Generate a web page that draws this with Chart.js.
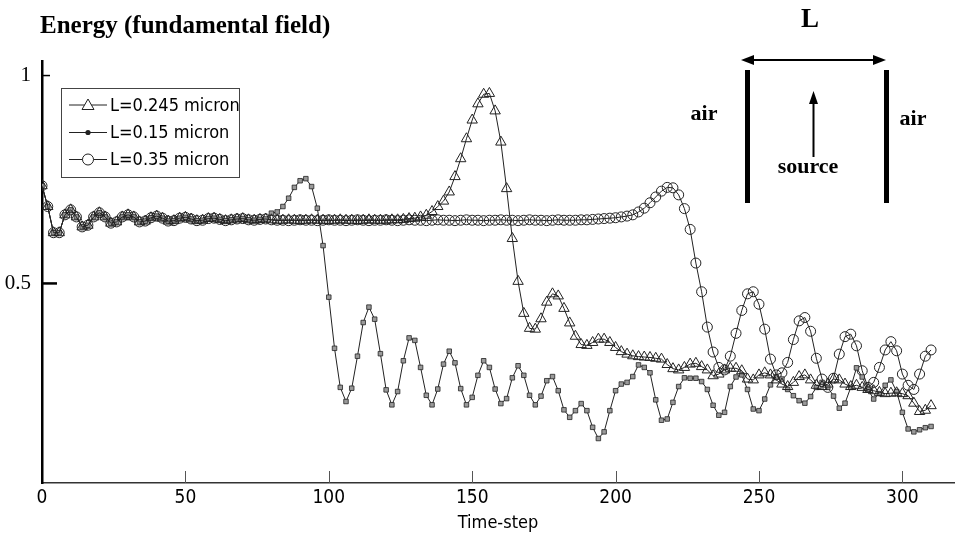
<!DOCTYPE html>
<html>
<head>
<meta charset="utf-8">
<script src="https://cdn.jsdelivr.net/npm/chart.js@4/dist/chart.umd.min.js"></script>
<style>
  body { margin: 0; background: #fff; }
  #energy-plot { display: block; }
</style>
</head>
<body>
<canvas id="energy-plot" width="961" height="539"></canvas>
<script>
// time-steps (every 2nd step was sampled)
const steps = [0,2,4,6,8,10,12,14,16,18,20,22,24,26,28,30,32,34,36,38,40,42,44,46,48,50,52,54,56,58,60,62,64,66,68,70,72,74,76,78,
    80,82,84,86,88,90,92,94,96,98,100,102,104,106,108,110,112,114,116,118,120,122,124,126,128,130,132,134,136,138,140,142,144,146,148,150,
    152,154,156,158,160,162,164,166,168,170,172,174,176,178,180,182,184,186,188,190,192,194,196,198,200,202,204,206,208,210,212,214,216,218,220,
    222,224,226,228,230,232,234,236,238,240,242,244,246,248,250,252,254,256,258,260,262,264,266,268,270,272,274,276,278,280,282,284,286,288,290,
    292,294,296,298,300,302,304,306,308,310];

// all three runs coincide for t = 0..78
const commonStart = [0.735,0.685,0.622,0.622,0.665,0.677,0.660,0.636,0.640,0.660,
    0.670,0.660,0.645,0.648,0.660,0.665,0.660,0.648,0.650,0.658,
    0.662,0.657,0.650,0.651,0.657,0.659,0.655,0.651,0.652,0.656,
    0.657,0.654,0.651,0.653,0.655,0.656,0.653,0.652,0.654,0.655];

// t = 80..310
const tail245 = [0.653,0.652,0.652,0.653,0.652,0.651,0.652,0.653,0.652,0.652,0.651,0.652,0.653,0.652,0.652,0.651,0.652,0.653,0.652,0.652,
    0.652,0.653,0.653,0.654,0.656,
    0.657,0.660,0.664,0.673,0.685,0.698,0.720,0.757,0.800,0.848,0.893,0.932,0.955,0.957,0.915,0.840,0.728,0.608,0.505,0.428,
    0.392,0.390,0.415,0.455,0.475,0.470,0.440,0.405,0.373,0.353,0.351,0.358,0.366,0.366,0.358,0.346,0.336,0.330,0.326,0.324,
    0.323,0.322,0.320,0.318,0.305,0.295,0.292,0.298,0.306,0.308,0.300,0.292,0.278,0.282,0.292,0.296,0.296,0.290,0.270,0.268,
    0.280,0.285,0.280,0.268,0.258,0.252,0.262,0.276,0.280,0.268,0.255,0.252,0.258,0.270,0.268,0.258,0.252,0.255,0.250,0.245,
    0.242,0.238,0.235,0.236,0.237,0.235,0.230,0.212,0.192,0.195,0.206];

const tail15 = [0.669,0.672,0.685,0.705,0.731,0.747,0.752,0.733,0.681,0.591,0.467,0.344,0.250,0.216,0.248,0.325,0.406,0.443,0.414,0.331,
    0.244,0.208,0.240,0.314,0.369,0.363,0.298,0.231,0.208,0.246,0.306,0.337,0.309,0.247,0.208,0.226,0.279,0.314,0.298,0.246,
    0.211,0.223,0.273,0.302,0.279,0.231,0.208,0.229,0.266,0.276,0.242,0.196,0.178,0.194,0.211,0.194,0.154,0.127,0.143,0.194,
    0.242,0.258,0.262,0.276,0.304,0.298,0.285,0.220,0.171,0.174,0.214,0.252,0.273,0.272,0.272,0.264,0.245,0.207,0.183,0.190,
    0.252,0.275,0.280,0.245,0.198,0.194,0.222,0.256,0.275,0.270,0.245,0.230,0.218,0.212,0.228,0.250,0.262,0.250,0.229,0.200,
    0.212,0.250,0.297,0.275,0.245,0.222,0.235,0.255,0.268,0.240,0.190,0.150,0.143,0.148,0.153,0.156];

const tail35 = [0.653,0.652,0.652,0.651,0.652,0.653,0.652,0.652,0.651,0.652,0.653,0.652,0.652,0.651,0.652,0.653,0.652,0.651,0.652,0.652,
    0.653,0.652,0.651,0.652,0.653,0.652,0.652,0.651,0.652,0.653,0.652,0.652,0.651,0.652,0.653,0.652,0.652,0.651,0.652,0.652,
    0.653,0.652,0.652,0.651,0.652,0.653,0.652,0.652,0.651,0.652,0.653,0.652,0.652,0.652,0.653,
    0.653,0.654,0.655,0.656,0.657,0.658,0.660,0.662,0.665,0.672,0.681,0.694,0.708,0.722,0.731,0.730,0.713,0.680,0.630,0.549,
    0.480,0.395,0.335,0.298,0.292,0.325,0.380,0.435,0.475,0.480,0.450,0.390,0.318,0.280,0.285,0.310,0.365,0.410,0.418,0.385,
    0.320,0.270,0.250,0.272,0.330,0.372,0.378,0.350,0.290,0.250,0.262,0.298,0.340,0.360,0.338,0.282,0.255,0.245,0.282,0.325,0.340];

const seriesLabels = ['L=0.245 micron', 'L=0.15 micron', 'L=0.35 micron'];
const xTicks = [0, 50, 100, 150, 200, 250, 300];
const yTicks = [0.5, 1];

const NARROW = '"DejaVu Sans Condensed", "Liberation Sans Narrow", "Liberation Sans", Arial, sans-serif';
const SERIF = '"Liberation Serif", "Times New Roman", serif';

function toPoints(values) {
    return values.map((v, i) => ({x: steps[i], y: v}));
}

const energy245 = toPoints(commonStart.concat(tail245));
const energy15 = toPoints(commonStart.concat(tail15));
const energy35 = toPoints(commonStart.concat(tail35));

// legend box, title and the little cavity sketch in the corner
const decorations = {
    id: 'decorations',
    afterDraw(chart) {
        const ctx = chart.ctx;
        const xs = chart.scales.x;
        const ys = chart.scales.y;
        const area = chart.chartArea;
        ctx.save();

        // inward tick marks
        ctx.strokeStyle = '#555';
        ctx.lineWidth = 1;
        xTicks.forEach(v => {
            if (v === 0) return;
            const px = Math.round(xs.getPixelForValue(v)) + 0.5;
            ctx.beginPath();
            ctx.moveTo(px, area.bottom);
            ctx.lineTo(px, area.bottom - 12);
            ctx.stroke();
        });
        ctx.strokeStyle = '#000';
        ctx.lineWidth = 1.5;
        ctx.beginPath();
        ctx.moveTo(area.left, ys.getPixelForValue(1));
        ctx.lineTo(area.left + 8, ys.getPixelForValue(1));
        ctx.stroke();
        ctx.lineWidth = 2.5;
        ctx.beginPath();
        ctx.moveTo(area.left, ys.getPixelForValue(0.5));
        ctx.lineTo(area.left + 15, ys.getPixelForValue(0.5));
        ctx.stroke();

        // title
        ctx.fillStyle = '#000';
        ctx.font = 'bold 25px ' + SERIF;
        ctx.textAlign = 'left';
        ctx.textBaseline = 'middle';
        ctx.fillText('Energy (fundamental field)', 40, 27);

        // legend
        ctx.fillStyle = '#fff';
        ctx.fillRect(61.5, 88.5, 178, 89);
        ctx.strokeStyle = '#444';
        ctx.lineWidth = 1;
        ctx.strokeRect(61.5, 88.5, 178, 89);
        const rows = [105, 132.5, 159.5];
        rows.forEach((ry, i) => {
            ctx.strokeStyle = '#222';
            ctx.lineWidth = 1;
            ctx.beginPath();
            ctx.moveTo(69, ry);
            ctx.lineTo(107, ry);
            ctx.stroke();
            ctx.beginPath();
            if (i === 0) {
                ctx.fillStyle = '#fff';
                ctx.moveTo(88, ry - 6);
                ctx.lineTo(94, ry + 4.5);
                ctx.lineTo(82, ry + 4.5);
                ctx.closePath();
                ctx.fill();
                ctx.stroke();
            } else if (i === 1) {
                ctx.fillStyle = '#222';
                ctx.arc(88, ry, 2.6, 0, Math.PI * 2);
                ctx.fill();
            } else {
                ctx.fillStyle = '#fff';
                ctx.arc(88, ry, 5.5, 0, Math.PI * 2);
                ctx.fill();
                ctx.stroke();
            }
            ctx.fillStyle = '#000';
            ctx.font = '18px ' + NARROW;
            ctx.textAlign = 'left';
            ctx.textBaseline = 'middle';
            ctx.fillText(chart.data.datasets[i].label, 110, ry + 1);
        });

        // cavity sketch
        ctx.fillStyle = '#000';
        ctx.strokeStyle = '#000';
        ctx.font = 'bold 27px ' + SERIF;
        ctx.textAlign = 'center';
        ctx.fillText('L', 810, 20);
        ctx.font = 'bold 22px ' + SERIF;
        ctx.fillText('air', 704, 114);
        ctx.fillText('air', 913, 119);
        ctx.fillText('source', 808, 167);

        ctx.lineWidth = 2;
        ctx.beginPath();
        ctx.moveTo(750, 60);
        ctx.lineTo(877, 60);
        ctx.stroke();
        ctx.beginPath();
        ctx.moveTo(741, 60);
        ctx.lineTo(754, 55);
        ctx.lineTo(754, 65);
        ctx.closePath();
        ctx.fill();
        ctx.beginPath();
        ctx.moveTo(886, 60);
        ctx.lineTo(873, 55);
        ctx.lineTo(873, 65);
        ctx.closePath();
        ctx.fill();

        ctx.fillRect(745, 70, 5, 133);
        ctx.fillRect(884, 70, 5, 133);

        ctx.beginPath();
        ctx.moveTo(813.5, 157);
        ctx.lineTo(813.5, 100);
        ctx.stroke();
        ctx.beginPath();
        ctx.moveTo(813.5, 91);
        ctx.lineTo(818, 104);
        ctx.lineTo(809, 104);
        ctx.closePath();
        ctx.fill();

        ctx.restore();
    }
};

const lineDefaults = {
    borderColor: '#222',
    borderWidth: 1,
    tension: 0,
    fill: false,
    clip: 0,
    pointBorderColor: '#222',
    pointBorderWidth: 1
};

new Chart(document.getElementById('energy-plot'), {
    type: 'line',
    data: {
        datasets: [
            Object.assign({}, lineDefaults, {
                label: seriesLabels[0],
                data: energy245,
                pointStyle: 'triangle',
                pointRadius: 6,
                pointBackgroundColor: 'rgba(255,255,255,0)'
            }),
            Object.assign({}, lineDefaults, {
                label: seriesLabels[1],
                data: energy15,
                pointStyle: 'rect',
                pointRadius: 3.2,
                pointBorderWidth: 0.8,
                pointBackgroundColor: '#9a9a9a'
            }),
            Object.assign({}, lineDefaults, {
                label: seriesLabels[2],
                data: energy35,
                pointStyle: 'circle',
                pointRadius: 5,
                pointBackgroundColor: 'rgba(255,255,255,0)'
            })
        ]
    },
    options: {
        responsive: false,
        animation: false,
        devicePixelRatio: 1,
        layout: {padding: {top: 61, right: 3, bottom: 0, left: 0}},
        plugins: {
            legend: {display: false},
            title: {display: false},
            tooltip: {enabled: false}
        },
        scales: {
            x: {
                type: 'linear',
                min: 0,
                max: 318,
                afterBuildTicks: s => { s.ticks = xTicks.map(v => ({value: v})); },
                afterFit: s => { s.height = 56; },
                grid: {display: false, drawTicks: false},
                border: {display: true, color: '#333', width: 1.5},
                ticks: {
                    color: '#000',
                    padding: 4,
                    maxRotation: 0,
                    font: {family: NARROW, size: 19}
                },
                title: {
                    display: true,
                    text: 'Time-step',
                    color: '#000',
                    padding: {top: 0, bottom: 5},
                    font: {family: NARROW, size: 18}
                }
            },
            y: {
                min: 0.02,
                max: 1.035,
                afterBuildTicks: s => { s.ticks = yTicks.map(v => ({value: v})); },
                afterFit: s => { s.width = 42; },
                grid: {display: false, drawTicks: false},
                border: {display: true, color: '#000', width: 2.5},
                ticks: {
                    color: '#000',
                    padding: 11,
                    font: {family: SERIF, size: 21},
                    callback: v => (v === 1 ? '1' : String(v))
                }
            }
        }
    },
    plugins: [decorations]
});
</script>
</body>
</html>
